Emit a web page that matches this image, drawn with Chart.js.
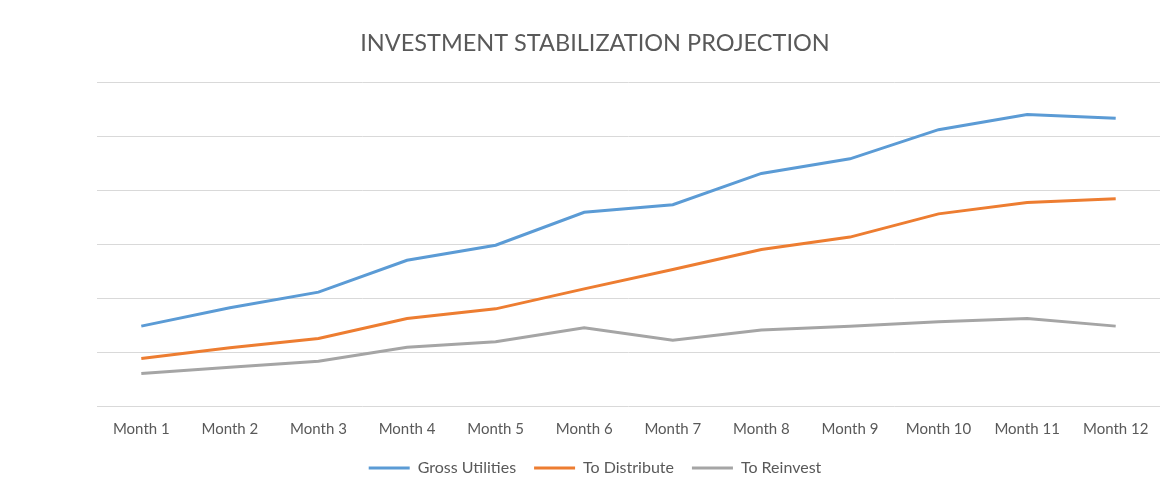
<!DOCTYPE html>
<html>
<head>
<meta charset="utf-8">
<script src="https://cdn.jsdelivr.net/npm/chart.js@4"></script>
<style>
  html, body { margin: 0; padding: 0; background: #fff; }
</style>
</head>
<body>
<canvas id="projection" width="1172" height="490"></canvas>
<script>
const months = ['Month 1', 'Month 2', 'Month 3', 'Month 4', 'Month 5', 'Month 6',
                'Month 7', 'Month 8', 'Month 9', 'Month 10', 'Month 11', 'Month 12']
const grossUtilities = [1.48, 1.82, 2.11, 2.70, 2.98, 3.59, 3.73, 4.31, 4.58, 5.12, 5.40, 5.33]
const toDistribute   = [0.88, 1.08, 1.25, 1.62, 1.80, 2.17, 2.53, 2.90, 3.13, 3.56, 3.77, 3.84]
const toReinvest     = [0.60, 0.72, 0.83, 1.09, 1.19, 1.45, 1.22, 1.41, 1.48, 1.56, 1.62, 1.48]

const textColor = '#595959'
const font = 'Lato, "Liberation Sans", sans-serif'

function lineSet(label, data, color){
    return {
        label: label,
        data: data,
        borderColor: color,
        backgroundColor: color,
        borderWidth: 3,
        pointRadius: 0,
        pointHoverRadius: 0,
        tension: 0
    }
}

var ctx = document.getElementById('projection')
var chart = new Chart(ctx, {
    type: 'line',
    data: {
        labels: months,
        datasets: [
            lineSet('Gross Utilities', grossUtilities, '#5B9BD5'),
            lineSet('To Distribute', toDistribute, '#ED7D31'),
            lineSet('To Reinvest', toReinvest, '#A5A5A5')
        ]
    },
    options: {
        responsive: false,
        animation: false,
        layout: {
            padding: { left: 30, right: 12, top: 0, bottom: 4 }
        },
        plugins: {
            title: {
                display: true,
                text: 'INVESTMENT STABILIZATION PROJECTION',
                color: textColor,
                font: { family: font, size: 23.5, weight: 'normal' },
                padding: { top: 29, bottom: 25 }
            },
            legend: {
                position: 'bottom',
                labels: {
                    usePointStyle: true,
                    pointStyle: 'line',
                    pointStyleWidth: 41,
                    boxHeight: 3,
                    padding: 18,
                    color: textColor,
                    font: { family: font, size: 16 }
                }
            },
            tooltip: { enabled: false }
        },
        scales: {
            x: {
                offset: true,
                grid: { display: false, drawTicks: false },
                border: { display: false },
                ticks: {
                    color: textColor,
                    font: { family: font, size: 15 },
                    padding: 14,
                    maxRotation: 0
                },
                afterFit: function(scale){ scale.height -= 10 }
            },
            y: {
                min: 0,
                max: 6,
                grid: { color: '#d9d9d9', lineWidth: 1, drawTicks: false },
                border: { display: false },
                ticks: { display: false, stepSize: 1 },
                afterFit: function(scale){ scale.width = 67 }
            }
        }
    }
})
</script>
</body>
</html>
